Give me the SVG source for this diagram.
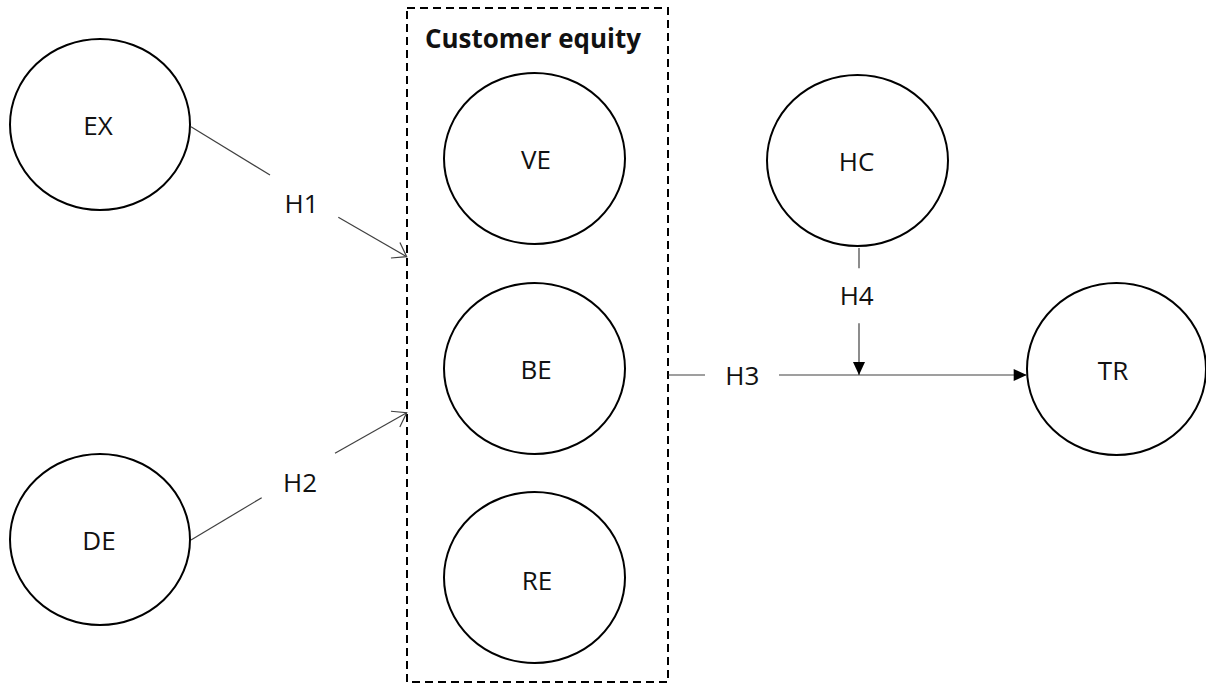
<svg xmlns="http://www.w3.org/2000/svg" width="1206" height="683" viewBox="0 0 1206 683">
<style>
.node ellipse{fill:#fff;stroke:#000;stroke-width:2}
text{font-family:"Open Sans","Liberation Sans",sans-serif;font-size:26px;fill:#111;text-anchor:middle}
.conn line{stroke:#404040;stroke-width:1.2;fill:none}
.title{font-weight:bold;text-anchor:start}
</style>
<defs>
<marker id="open" markerWidth="16" markerHeight="22" refX="14" refY="10" orient="auto" markerUnits="userSpaceOnUse" overflow="visible">
<path d="M1,1 L14,10 L1,19" fill="none" stroke="#404040" stroke-width="1.2"/>
</marker>
<marker id="filled" markerWidth="14" markerHeight="12" refX="13" refY="6" orient="auto" markerUnits="userSpaceOnUse" overflow="visible">
<path d="M0,0 L13,6 L0,12 Z" fill="#000"/>
</marker>
</defs>
<rect width="1206" height="683" fill="#fff"/>
<g id="customer-equity">
<rect x="407" y="8" width="261" height="674" fill="none" stroke="#000" stroke-width="2" stroke-dasharray="8 5"/>
<text class="title" x="425" y="48" textLength="216" lengthAdjust="spacingAndGlyphs">Customer equity</text>
</g>
<g id="EX" class="node"><ellipse cx="100" cy="124.5" rx="90" ry="85.5"/><text x="98" y="135">EX</text></g>
<g id="DE" class="node"><ellipse cx="100" cy="539.5" rx="90" ry="85.5"/><text x="99" y="550">DE</text></g>
<g id="VE" class="node"><ellipse cx="534.5" cy="158.5" rx="90.5" ry="85.5"/><text x="536" y="169">VE</text></g>
<g id="BE" class="node"><ellipse cx="534.5" cy="368.5" rx="90.5" ry="85.5"/><text x="536" y="379">BE</text></g>
<g id="RE" class="node"><ellipse cx="534.5" cy="577.5" rx="90.5" ry="85.5"/><text x="537" y="590">RE</text></g>
<g id="HC" class="node"><ellipse cx="857.5" cy="160.5" rx="90.5" ry="85.5"/><text x="856.5" y="171">HC</text></g>
<g id="TR" class="node"><ellipse cx="1116.5" cy="369" rx="89.5" ry="86"/><text x="1113" y="380">TR</text></g>
<g id="connectors" class="conn">
<line x1="191" y1="126.7" x2="270" y2="175"/>
<line x1="338.3" y1="217.3" x2="406.7" y2="256.7" marker-end="url(#open)"/>
<text x="301.5" y="212.5">H1</text>
<line x1="191" y1="540" x2="261.7" y2="497.7"/>
<line x1="335" y1="453.3" x2="406.7" y2="412.7" marker-end="url(#open)"/>
<text x="300" y="491.5">H2</text>
<line x1="668.3" y1="375" x2="705" y2="375"/>
<line x1="779" y1="375" x2="1026.7" y2="375" marker-end="url(#filled)"/>
<text x="742.3" y="385">H3</text>
<line x1="859" y1="248" x2="859" y2="268.3"/>
<line x1="859" y1="323.3" x2="859" y2="375" marker-end="url(#filled)"/>
<text x="856.7" y="305">H4</text>
</g>
</svg>
